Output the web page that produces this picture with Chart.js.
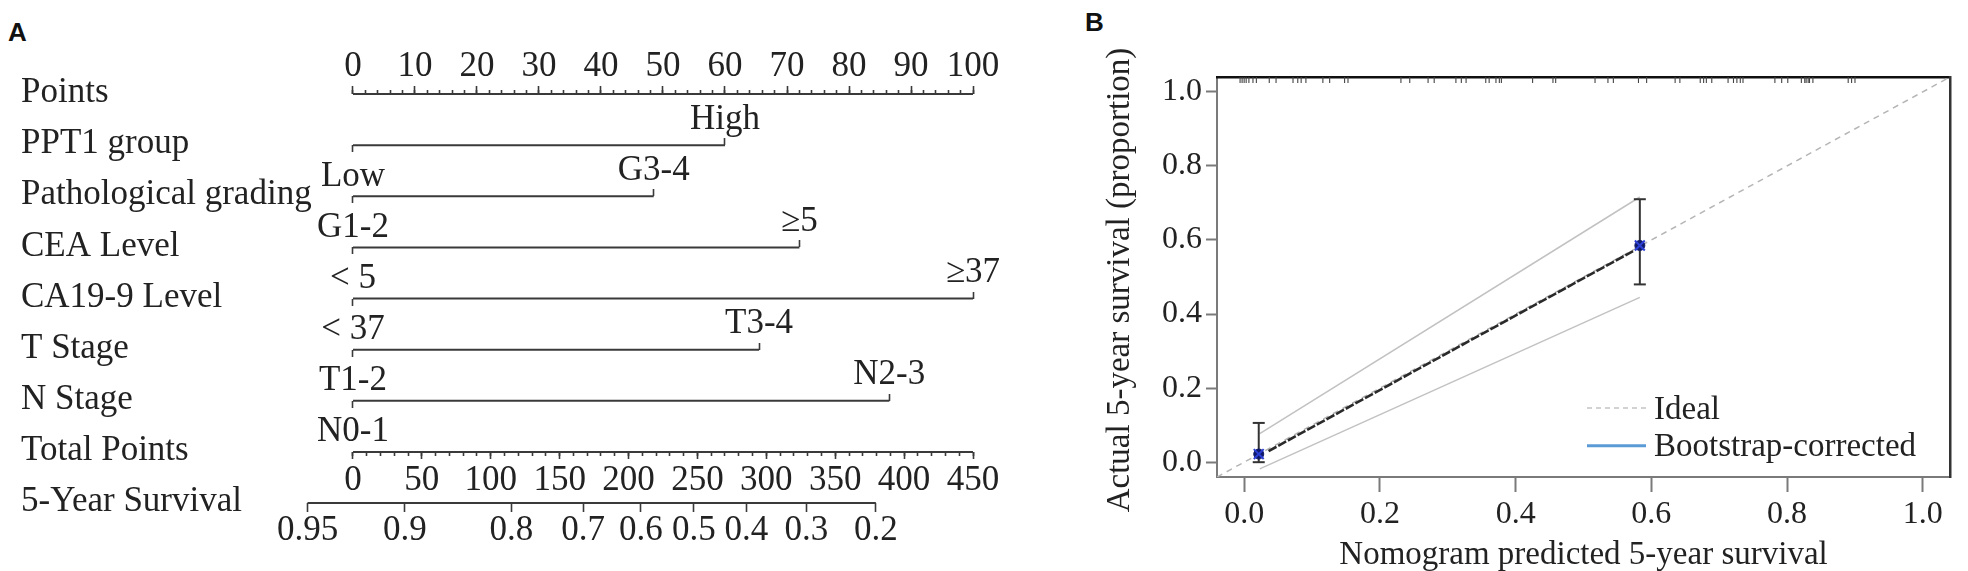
<!DOCTYPE html>
<html><head><meta charset="utf-8">
<script src="https://cdn.jsdelivr.net/npm/chart.js@4.4.1/dist/chart.umd.min.js"></script>
<style>
html,body{margin:0;padding:0;background:#fff;}
#wrap{position:relative;width:1968px;height:571px;overflow:hidden;background:#fff;}
canvas{position:absolute;top:0;}
#cA{left:0;}
#cB{left:1040px;}
.pl{position:absolute;font:bold 26px "Liberation Sans",Arial,sans-serif;line-height:1;color:#111;}
</style></head><body>
<div id="wrap">
<div class="pl" style="left:8px;top:19px">A</div>
<div class="pl" style="left:1085px;top:9px">B</div>
<canvas id="cA" width="1000" height="571"></canvas>
<canvas id="cB" width="928" height="571"></canvas>
</div>
<script>
// ---------- Panel A : nomogram ----------
const rowLabels = ['Points','PPT1 group','Pathological grading','CEA Level','CA19-9 Level','T Stage','N Stage','Total Points','5-Year Survival'];
const varLowLabels  = ['Low','G1-2','< 5','< 37','T1-2','N0-1'];
const varHighLabels = ['High','G3-4','≥5','≥37','T3-4','N2-3'];
const varMaxPoints  = [60, 48.5, 72, 100, 65.5, 86.5];
const pointsTicks = [0,10,20,30,40,50,60,70,80,90,100];
const totalTicks  = [0,50,100,150,200,250,300,350,400,450];
const survLabels  = ['0.95','0.9','0.8','0.7','0.6','0.5','0.4','0.3','0.2'];
const survTotalPoints = [-33, 37.7, 115, 167, 209, 247.5, 285.5, 329, 379.5];

// ---------- Panel B : calibration ----------
const calTicks = [0, 0.2, 0.4, 0.6, 0.8, 1.0];
const calTickLabels = ['0.0','0.2','0.4','0.6','0.8','1.0'];
const groupPred = [0.0215, 0.583];
const groupObs  = [0.022, 0.585];
const groupLo   = [0.0, 0.480];
const groupHi   = [0.106, 0.710];
const ciX       = [0.023, 0.583];
const ciUpperY  = [0.077, 0.716];
const ciLowerY  = [-0.018, 0.445];
const calCurveX = [0.036, 0.573];
const calCurveY = [0.030, 0.570];
const rugX = [-0.006,-0.003,0.0,0.003,0.007,0.013,0.018,0.037,0.047,0.072,0.079,0.084,0.091,0.116,0.126,0.148,0.153,
  0.231,0.244,0.271,0.280,0.312,0.320,0.327,0.356,0.361,0.371,0.376,0.379,0.425,0.455,0.459,0.517,0.536,0.544,
  0.581,0.593,0.635,0.642,0.672,0.677,0.681,0.689,0.713,0.721,0.726,0.731,0.735,0.782,0.792,0.801,0.821,0.826,
  0.828,0.831,0.833,0.838,0.890,0.895,0.900];
const legendItems = [
  {text:'Ideal', color:'#c4c4c4', dash:[5,4], width:1.5},
  {text:'Bootstrap-corrected', color:'#5b9bd5', dash:[], width:3}
];
const yTitleB = 'Actual 5-year survival (proportion)';
const xTitleB = 'Nomogram predicted 5-year survival';

const SERIF = '"Liberation Serif","Times New Roman",serif';
const INK = '#222';
const AXC = '#3a3a3a';
const fontA = {family: SERIF, size: 35};

// visible windows (view limits, not data)
const PTS_MIN = -11.77, PTS_MAX = 102.74;
const ROW_MIN = -1.2517, ROW_MAX = 8.7423;
const TOT_K = totalTicks[totalTicks.length-1] / pointsTicks[pointsTicks.length-1];
const CAL_MIN = -0.04, CAL_MAX = 1.04;

function rowAxis(o) {
  const k = o.k || 1;
  return {
    axis: 'x', type: 'linear', position: {y: o.row},
    min: PTS_MIN * k, max: PTS_MAX * k,
    afterBuildTicks: s => { s.ticks = o.values.map(v => ({value: v})); },
    grid: {display: true, drawOnChartArea: false, drawTicks: true, tickLength: o.tl, tickColor: AXC, tickWidth: 1.6, color: AXC},
    border: {display: false},
    ticks: {display: !!o.labels, autoSkip: false, maxRotation: 0, minRotation: 0, padding: o.pad || 0,
            font: fontA, color: INK, callback: (v, i) => o.labels ? o.labels[i] : ''}
  };
}
const minorPts = []; for (let v = pointsTicks[0]; v <= pointsTicks[pointsTicks.length-1]; v += 2) minorPts.push(v);
const minorTot = []; for (let v = totalTicks[0]; v <= totalTicks[totalTicks.length-1]; v += 10) minorTot.push(v);

const CHART_LEFT_A = 280, LABEL_X_A = 21;
const scalesA = {
  y: {
    type: 'linear', position: 'left', reverse: true, min: ROW_MIN, max: ROW_MAX,
    afterFit: s => { s.width = CHART_LEFT_A; },
    afterBuildTicks: s => { s.ticks = rowLabels.map((_, i) => ({value: i})); },
    grid: {display: false}, border: {display: false},
    ticks: {autoSkip: false, mirror: true, crossAlign: 'near', labelOffset: -1, padding: LABEL_X_A - CHART_LEFT_A,
            font: fontA, color: INK, callback: (v, i) => rowLabels[i]}
  },
  x:   rowAxis({row: 0, values: pointsTicks, labels: pointsTicks.map(String), tl: -8, pad: -40.5}),
  xm:  rowAxis({row: 0, values: minorPts, tl: -4}),
  xT:  rowAxis({row: 7, k: TOT_K, values: totalTicks, labels: totalTicks.map(String), tl: 7, pad: 0.5}),
  xTm: rowAxis({row: 7, k: TOT_K, values: minorTot, tl: 4}),
  xS:  rowAxis({row: 8, k: TOT_K, values: survTotalPoints, labels: survLabels, tl: 9, pad: -2})
};
varMaxPoints.forEach((m, j) => {
  scalesA['lo' + j] = rowAxis({row: j + 1, values: [0], labels: [varLowLabels[j]], tl: 7, pad: 3.5});
  scalesA['hi' + j] = rowAxis({row: j + 1, values: [m], labels: [varHighLabels[j]], tl: -7, pad: -39.7});
});

const lineDs = (data, xAxisID) => ({data, xAxisID, yAxisID: 'y', showLine: true, borderColor: AXC,
  borderWidth: 2, pointRadius: 0, pointHoverRadius: 0, fill: false});
const dsA = [];
dsA.push(lineDs([{x: pointsTicks[0], y: 0}, {x: pointsTicks[pointsTicks.length-1], y: 0}], 'x'));
varMaxPoints.forEach((m, j) => dsA.push(lineDs([{x: 0, y: j + 1}, {x: m, y: j + 1}], 'x')));
dsA.push(lineDs([{x: totalTicks[0], y: 7}, {x: totalTicks[totalTicks.length-1], y: 7}], 'xT'));
dsA.push(lineDs([{x: survTotalPoints[0], y: 8}, {x: survTotalPoints[survTotalPoints.length-1], y: 8}], 'xT'));

new Chart(document.getElementById('cA'), {
  type: 'scatter',
  data: {datasets: dsA},
  options: {
    responsive: false, animation: false, events: [],
    layout: {padding: {left: 0, right: 10, top: 30, bottom: 30}},
    plugins: {legend: {display: false}, tooltip: {enabled: false}},
    scales: scalesA
  }
});

// ---------- Panel B chart ----------
const fontTickB = {family: SERIF, size: 32};
const fontTitleB = {family: SERIF, size: 33, lineHeight: 1};
const GR = '#7a7a7a';

const dsB = [
  {data: groupPred.map((x, i) => ({x, y: groupObs[i]})), pointStyle: 'crossRot', pointRadius: 7,
   pointBorderColor: '#2c3fd6', pointBorderWidth: 2, showLine: false, order: 0},
  {data: groupPred.map((x, i) => ({x, y: groupObs[i]})), pointStyle: 'circle', pointRadius: 5,
   pointBackgroundColor: '#0f1a6a', pointBorderColor: '#0f1a6a', pointBorderWidth: 1, showLine: false, order: 1},
  {data: calCurveX.map((x, i) => ({x, y: calCurveY[i]})), showLine: true, borderColor: '#2a2a2a',
   borderWidth: 2.6, borderDash: [9, 2], pointRadius: 0, order: 3},
  {data: ciX.map((x, i) => ({x, y: ciUpperY[i]})), showLine: true, borderColor: '#c2c2c2', borderWidth: 1.5, pointRadius: 0, order: 4},
  {data: ciX.map((x, i) => ({x, y: ciLowerY[i]})), showLine: true, borderColor: '#c2c2c2', borderWidth: 1.5, pointRadius: 0, order: 4},
  {data: [{x: CAL_MIN, y: CAL_MIN}, {x: CAL_MAX, y: CAL_MAX}], showLine: true, borderColor: '#b5b5b5',
   borderWidth: 1.5, borderDash: [6, 5], pointRadius: 0, order: 6},
  {data: rugX.map(x => ({x, y: CAL_MAX})), showLine: false, pointStyle: 'line', rotation: 90, pointRadius: 6,
   pointBorderColor: '#444', pointBorderWidth: 1.1, clip: 0, order: 5}
];
groupPred.forEach((x, i) => {
  dsB.push({data: [{x, y: groupLo[i]}, {x, y: groupHi[i]}], showLine: true, borderColor: '#333', borderWidth: 2,
    pointStyle: 'line', pointRadius: 6, pointBorderColor: '#333', pointBorderWidth: 2, order: 2});
});

const bPlugin = {
  id: 'bExtras',
  afterDraw(chart) {
    const {ctx, chartArea: ca} = chart;
    ctx.save();
    ctx.font = '33px ' + SERIF;
    ctx.fillStyle = INK;
    ctx.textAlign = 'center';
    ctx.textBaseline = 'middle';
    ctx.translate(80, (ca.top + ca.bottom) / 2 + 3);
    ctx.rotate(-Math.PI / 2);
    ctx.fillText(yTitleB, 0, 0);
    ctx.restore();
    ctx.save();
    ctx.font = '33px ' + SERIF;
    ctx.textAlign = 'left';
    ctx.textBaseline = 'middle';
    legendItems.forEach((it, i) => {
      const y = ca.bottom - 69 + i * 37.7;
      ctx.beginPath();
      ctx.setLineDash(it.dash);
      ctx.strokeStyle = it.color;
      ctx.lineWidth = it.width;
      ctx.moveTo(ca.right - 363, y);
      ctx.lineTo(ca.right - 304, y);
      ctx.stroke();
      ctx.setLineDash([]);
      ctx.fillStyle = INK;
      ctx.fillText(it.text, ca.right - 296, y + 2);
    });
    ctx.restore();
  }
};

new Chart(document.getElementById('cB'), {
  type: 'scatter',
  data: {datasets: dsB},
  options: {
    responsive: false, animation: false, events: [],
    layout: {padding: 0},
    plugins: {legend: {display: false}, tooltip: {enabled: false}},
    scales: {
      x: {
        type: 'linear', position: 'bottom', min: CAL_MIN, max: CAL_MAX,
        afterBuildTicks: s => { s.ticks = calTicks.map(v => ({value: v})); },
        afterFit: s => { s.height = 94; },
        grid: {drawOnChartArea: false, tickLength: 15, tickColor: GR, tickWidth: 2},
        border: {color: GR, width: 2},
        ticks: {callback: (v, i) => calTickLabels[i], font: fontTickB, color: INK, padding: 3.5, autoSkip: false, maxRotation: 0},
        title: {display: true, text: xTitleB, font: fontTitleB, color: INK, padding: {top: 0, bottom: -1}}
      },
      y: {
        type: 'linear', position: 'left', min: CAL_MIN, max: CAL_MAX,
        afterBuildTicks: s => { s.ticks = calTicks.map(v => ({value: v})); },
        afterFit: s => { s.width = 177; },
        grid: {drawOnChartArea: false, tickLength: 11, tickColor: GR, tickWidth: 2},
        border: {color: GR, width: 2},
        ticks: {callback: (v, i) => calTickLabels[i], font: fontTickB, color: INK, padding: 4, autoSkip: false}
      },
      xTop: {
        axis: 'x', type: 'linear', position: 'top', min: CAL_MIN, max: CAL_MAX,
        afterFit: s => { s.height = 77; },
        grid: {display: false, drawTicks: false}, ticks: {display: false},
        border: {display: true, color: '#111', width: 2.5}
      },
      yRight: {
        axis: 'y', type: 'linear', position: 'right', min: CAL_MIN, max: CAL_MAX,
        afterFit: s => { s.width = 18; },
        grid: {display: false, drawTicks: false}, ticks: {display: false},
        border: {display: true, color: '#333', width: 2.5}
      }
    }
  },
  plugins: [bPlugin]
});
</script>
</body></html>
